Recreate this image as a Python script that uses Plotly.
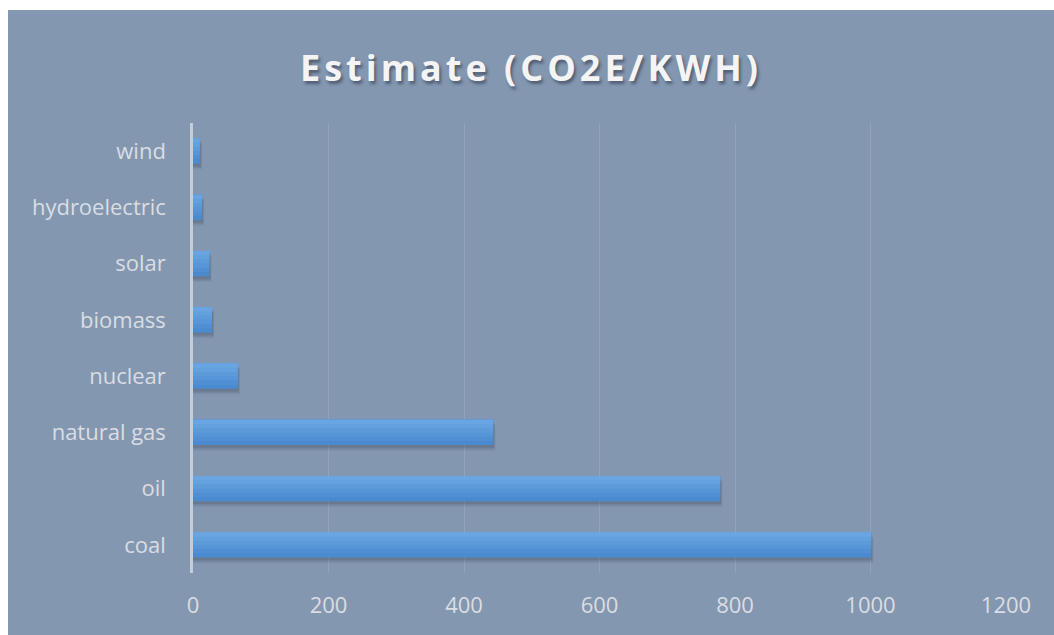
import plotly.graph_objects as go

# Data (bottom to top as drawn by plotly)
categories = ["coal", "oil", "natural gas", "nuclear", "biomass", "solar", "hydroelectric", "wind"]
values = [1001, 778, 443, 66, 28, 24, 13, 10]
x_ticks = [0, 200, 400, 600, 800, 1000, 1200]

BG = "#8497B0"
TXT = "#DADDE3"
BAR_W = 0.45

fig = go.Figure()

# soft shadow behind bars (layers for a blurred look)
for dy, dx, alpha in [(0.10, 3.5, 0.07), (0.075, 2.5, 0.10), (0.05, 1.5, 0.14)]:
    fig.add_trace(go.Bar(
        y=categories, x=[v + dx for v in values], orientation="h",
        width=BAR_W, offset=-BAR_W / 2 - dy,
        marker=dict(color=f"rgba(40,50,70,{alpha})", line=dict(width=0)),
        hoverinfo="skip", showlegend=False,
    ))

# gradient: full dark bar, then top-aligned, progressively thinner, lighter bars
bands = ["#4A8ACF", "#508FD3", "#5695D7", "#5C9ADA", "#62A0DE", "#68A5E2"]
n = len(bands)
for i, col in enumerate(bands):
    w = BAR_W * (n - i) / n
    fig.add_trace(go.Bar(
        y=categories, x=values, orientation="h",
        width=w, offset=BAR_W / 2 - w,
        marker=dict(color=col, line=dict(width=0)),
        hoverinfo="skip" if i else None, showlegend=False,
    ))

fig.update_layout(
    width=1046, height=625,
    margin=dict(l=185, r=48, t=113, b=62),
    paper_bgcolor=BG, plot_bgcolor=BG,
    barmode="overlay",
    title=dict(
        text="<b>Estimate (CO2E/KWH)</b>",
        x=0.5, xref="container", xanchor="center",
        y=1 - 58 / 625, yref="container", yanchor="middle",
        font=dict(family="Open Sans", size=36, color="#F4F4F4",
                  shadow="2px 3px 3px rgba(40,50,70,0.55)"),
    ),
    font=dict(family="Open Sans", color=TXT),
)
fig.update_xaxes(
    range=[0, 1200], tickvals=x_ticks, ticktext=[str(t) for t in x_ticks],
    showgrid=True, gridcolor="rgba(255,255,255,0.13)", gridwidth=1,
    zeroline=False, showline=False,
    tickfont=dict(family="Open Sans", size=22, color=TXT),
    ticklabelstandoff=17, fixedrange=True,
)
fig.update_yaxes(
    categoryorder="array", categoryarray=categories,
    showgrid=False, zeroline=False,
    showline=True, linecolor="rgba(225,228,232,0.7)", linewidth=2.5,
    tickfont=dict(family="Open Sans", size=22, color=TXT),
    ticklabelstandoff=20, fixedrange=True,
)

fig.write_html(
    "out.html",
    config={"displayModeBar": False},
    post_script="document.body.style.margin='10px 0 0 8px';"
                "var t=document.querySelector('.gtitle'); if(t){t.style.letterSpacing='4px';}",
)
